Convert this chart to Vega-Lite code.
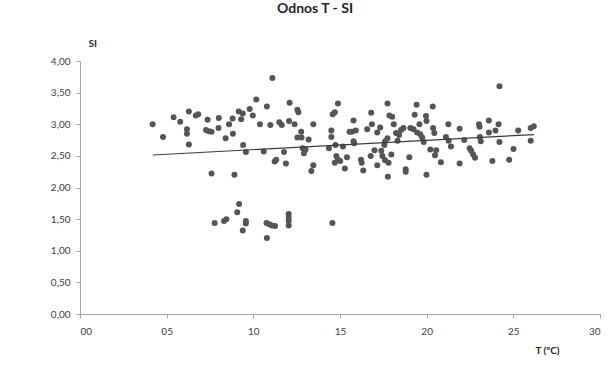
{
  "$schema": "https://vega.github.io/schema/vega-lite/v6.json",
  "width": 520,
  "height": 253,
  "autosize": {"type": "none"},
  "padding": {"left": 80, "top": 61, "right": 13, "bottom": 57},
  "background": "white",
  "config": {
    "view": {"stroke": null},
    "font": "Lato",
    "axis": {
      "grid": false,
      "domainColor": "#a6a6a6",
      "tickColor": "#a6a6a6",
      "tickSize": 4,
      "labelOverlap": false,
      "labelFont": "Lato",
      "labelFontSize": 10,
      "labelColor": "#404040",
      "titleFont": "Lato",
      "titleFontSize": 10,
      "titleColor": "#262626"
    }
  },
  "title": {
    "text": "Odnos T - SI",
    "font": "Lato",
    "fontSize": 14,
    "fontWeight": "bold",
    "color": "#262626",
    "anchor": "middle",
    "dx": -25,
    "offset": 22
  },
  "datasets": {
    "pts": [
      {"T": 4.19, "SI": 3.00}, {"T": 4.79, "SI": 2.80}, {"T": 5.40, "SI": 3.11}, {"T": 5.78, "SI": 3.04},
      {"T": 6.28, "SI": 3.20}, {"T": 6.17, "SI": 2.92}, {"T": 6.17, "SI": 2.85}, {"T": 6.28, "SI": 2.68},
      {"T": 6.68, "SI": 3.14}, {"T": 6.82, "SI": 3.16}, {"T": 7.36, "SI": 3.07}, {"T": 7.27, "SI": 2.91},
      {"T": 7.43, "SI": 2.89}, {"T": 7.59, "SI": 2.88}, {"T": 7.59, "SI": 2.22}, {"T": 7.77, "SI": 1.44},
      {"T": 7.99, "SI": 2.94}, {"T": 8.01, "SI": 3.10}, {"T": 8.31, "SI": 1.47}, {"T": 8.44, "SI": 1.50},
      {"T": 8.40, "SI": 2.78}, {"T": 8.60, "SI": 3.00}, {"T": 8.80, "SI": 3.09}, {"T": 8.82, "SI": 2.85},
      {"T": 8.91, "SI": 2.20}, {"T": 9.07, "SI": 1.61}, {"T": 9.18, "SI": 1.74}, {"T": 9.16, "SI": 3.20},
      {"T": 9.30, "SI": 3.08}, {"T": 9.39, "SI": 3.17}, {"T": 9.41, "SI": 2.67}, {"T": 9.39, "SI": 1.32},
      {"T": 9.57, "SI": 2.56}, {"T": 9.57, "SI": 1.47}, {"T": 9.57, "SI": 1.43}, {"T": 9.79, "SI": 3.24},
      {"T": 9.97, "SI": 3.14}, {"T": 10.17, "SI": 3.39}, {"T": 10.38, "SI": 3.00}, {"T": 10.60, "SI": 2.57},
      {"T": 10.78, "SI": 3.28}, {"T": 10.76, "SI": 1.44}, {"T": 10.78, "SI": 1.20}, {"T": 10.98, "SI": 2.99},
      {"T": 10.92, "SI": 1.42}, {"T": 11.10, "SI": 3.73}, {"T": 11.07, "SI": 1.40}, {"T": 11.25, "SI": 1.39},
      {"T": 11.23, "SI": 2.41}, {"T": 11.32, "SI": 2.44}, {"T": 11.50, "SI": 3.03}, {"T": 11.64, "SI": 2.99},
      {"T": 11.77, "SI": 2.56}, {"T": 11.88, "SI": 2.38}, {"T": 12.04, "SI": 1.58}, {"T": 12.04, "SI": 1.52},
      {"T": 12.04, "SI": 1.47}, {"T": 12.04, "SI": 1.40}, {"T": 12.09, "SI": 3.34}, {"T": 12.06, "SI": 3.05},
      {"T": 12.38, "SI": 3.00}, {"T": 12.54, "SI": 3.23}, {"T": 12.60, "SI": 3.19}, {"T": 12.54, "SI": 2.79},
      {"T": 12.76, "SI": 2.88}, {"T": 12.78, "SI": 2.79}, {"T": 12.85, "SI": 2.62}, {"T": 12.92, "SI": 2.54},
      {"T": 13.01, "SI": 2.60}, {"T": 13.19, "SI": 2.76}, {"T": 13.35, "SI": 2.26}, {"T": 13.46, "SI": 2.35},
      {"T": 13.46, "SI": 3.00}, {"T": 14.36, "SI": 2.62}, {"T": 14.50, "SI": 2.90}, {"T": 14.50, "SI": 2.80},
      {"T": 14.56, "SI": 1.44}, {"T": 14.58, "SI": 3.16}, {"T": 14.70, "SI": 3.19}, {"T": 14.74, "SI": 2.67},
      {"T": 14.70, "SI": 2.39}, {"T": 14.79, "SI": 2.50}, {"T": 14.88, "SI": 3.33}, {"T": 14.88, "SI": 2.44},
      {"T": 15.01, "SI": 2.42}, {"T": 15.17, "SI": 2.65}, {"T": 15.28, "SI": 2.30}, {"T": 15.40, "SI": 2.48},
      {"T": 15.55, "SI": 2.88}, {"T": 15.69, "SI": 2.88}, {"T": 15.78, "SI": 3.06}, {"T": 15.78, "SI": 2.73},
      {"T": 15.82, "SI": 2.70}, {"T": 15.91, "SI": 2.90}, {"T": 16.21, "SI": 2.44}, {"T": 16.25, "SI": 2.39},
      {"T": 16.34, "SI": 2.27}, {"T": 16.57, "SI": 2.92}, {"T": 16.80, "SI": 3.18}, {"T": 16.84, "SI": 3.00},
      {"T": 16.77, "SI": 2.50}, {"T": 16.99, "SI": 2.59}, {"T": 17.15, "SI": 2.35}, {"T": 17.15, "SI": 2.87},
      {"T": 17.32, "SI": 2.95}, {"T": 17.38, "SI": 2.58}, {"T": 17.45, "SI": 2.50}, {"T": 17.56, "SI": 2.67},
      {"T": 17.60, "SI": 2.73}, {"T": 17.60, "SI": 2.43}, {"T": 17.74, "SI": 3.33}, {"T": 17.74, "SI": 2.78},
      {"T": 17.76, "SI": 2.17}, {"T": 17.80, "SI": 2.39}, {"T": 17.85, "SI": 3.14}, {"T": 17.96, "SI": 2.52},
      {"T": 18.01, "SI": 3.12}, {"T": 18.10, "SI": 3.00}, {"T": 18.23, "SI": 2.86}, {"T": 18.32, "SI": 2.74},
      {"T": 18.41, "SI": 2.83}, {"T": 18.52, "SI": 2.91}, {"T": 18.66, "SI": 2.94}, {"T": 18.79, "SI": 2.29},
      {"T": 18.79, "SI": 2.25}, {"T": 19.00, "SI": 2.48}, {"T": 19.06, "SI": 2.94}, {"T": 19.24, "SI": 2.92},
      {"T": 19.31, "SI": 3.15}, {"T": 19.42, "SI": 3.31}, {"T": 19.45, "SI": 2.87}, {"T": 19.58, "SI": 3.00},
      {"T": 19.63, "SI": 2.84}, {"T": 19.74, "SI": 2.79}, {"T": 19.83, "SI": 2.72}, {"T": 19.96, "SI": 3.13},
      {"T": 19.99, "SI": 3.05}, {"T": 19.99, "SI": 2.20}, {"T": 20.21, "SI": 2.60}, {"T": 20.35, "SI": 3.28},
      {"T": 20.37, "SI": 2.94}, {"T": 20.44, "SI": 2.86}, {"T": 20.48, "SI": 2.51}, {"T": 20.55, "SI": 2.59},
      {"T": 20.82, "SI": 2.40}, {"T": 21.11, "SI": 2.80}, {"T": 21.25, "SI": 3.00}, {"T": 21.27, "SI": 2.74},
      {"T": 21.40, "SI": 2.65}, {"T": 21.90, "SI": 2.93}, {"T": 21.90, "SI": 2.38}, {"T": 22.17, "SI": 2.75},
      {"T": 22.48, "SI": 2.62}, {"T": 22.57, "SI": 2.58}, {"T": 22.68, "SI": 2.52}, {"T": 22.79, "SI": 2.47},
      {"T": 23.02, "SI": 3.00}, {"T": 23.05, "SI": 2.96}, {"T": 23.07, "SI": 2.80}, {"T": 23.12, "SI": 2.73},
      {"T": 23.59, "SI": 3.06}, {"T": 23.59, "SI": 2.87}, {"T": 23.79, "SI": 2.42}, {"T": 23.97, "SI": 2.90},
      {"T": 24.15, "SI": 3.00}, {"T": 24.20, "SI": 3.60}, {"T": 24.20, "SI": 2.72}, {"T": 24.76, "SI": 2.44},
      {"T": 25.01, "SI": 2.61}, {"T": 25.28, "SI": 2.90}, {"T": 26.00, "SI": 2.74}, {"T": 26.00, "SI": 2.94},
      {"T": 26.18, "SI": 2.97}
    ],
    "trend": [
      {"T": 4.2, "SI": 2.5136},
      {"T": 26.2, "SI": 2.8370}
    ]
  },
  "encoding": {
    "x": {
      "field": "T", "type": "quantitative",
      "scale": {"domain": [0, 30], "nice": false, "zero": false},
      "axis": {
        "values": [0, 5, 10, 15, 20, 25, 30],
        "format": "02d",
        "labelOverlap": false,
        "labelPadding": 8,
        "title": "T (ºC)",
        "titleFontWeight": "bold",
        "titleAnchor": "start",
        "titleAlign": "center",
        "titleX": 467,
        "titleY": 36,
        "titleBaseline": "middle"
      }
    },
    "y": {
      "field": "SI", "type": "quantitative",
      "scale": {"domain": [0, 4], "nice": false},
      "axis": {
        "values": [0, 0.5, 1, 1.5, 2, 2.5, 3, 3.5, 4],
        "format": ".2f",
        "labelExpr": "replace(datum.label, '.', ',')",
        "labelOverlap": false,
        "labelPadding": 6,
        "title": "SI",
        "titleFontWeight": "bold",
        "titleAngle": 0,
        "titleAlign": "left",
        "titleBaseline": "middle",
        "titleX": 8,
        "titleY": -18
      }
    }
  },
  "layer": [
    {
      "data": {"name": "pts"},
      "mark": {"type": "circle", "size": 36, "color": "#555555", "opacity": 1}
    },
    {
      "data": {"name": "trend"},
      "mark": {"type": "line", "color": "#3a3a3a", "strokeWidth": 1.2}
    },
    {
      "data": {"values": [{}]},
      "mark": {
        "type": "text",
        "text": ["y = 0,0147x + 2,4519", "R² = 0,0254"],
        "font": "Lato",
        "fontSize": 10,
        "color": "#404040",
        "align": "center",
        "baseline": "middle",
        "lineHeight": 17
      },
      "encoding": {
        "x": {
          "datum": 26.5, "type": "quantitative",
          "axis": {
            "values": [0, 5, 10, 15, 20, 25, 30],
            "format": "02d",
            "labelOverlap": false,
            "labelPadding": 8,
            "title": "T (ºC)",
            "titleFontWeight": "bold",
            "titleAnchor": "start",
            "titleAlign": "center",
            "titleX": 467,
            "titleY": 36,
            "titleBaseline": "middle"
          }
        },
        "y": {
          "datum": 1.15, "type": "quantitative",
          "axis": {
            "values": [0, 0.5, 1, 1.5, 2, 2.5, 3, 3.5, 4],
            "format": ".2f",
            "labelExpr": "replace(datum.label, '.', ',')",
            "labelOverlap": false,
            "labelPadding": 6,
            "title": "SI",
            "titleFontWeight": "bold",
            "titleAngle": 0,
            "titleAlign": "left",
            "titleBaseline": "middle",
            "titleX": 8,
            "titleY": -18
          }
        }
      }
    }
  ]
}
